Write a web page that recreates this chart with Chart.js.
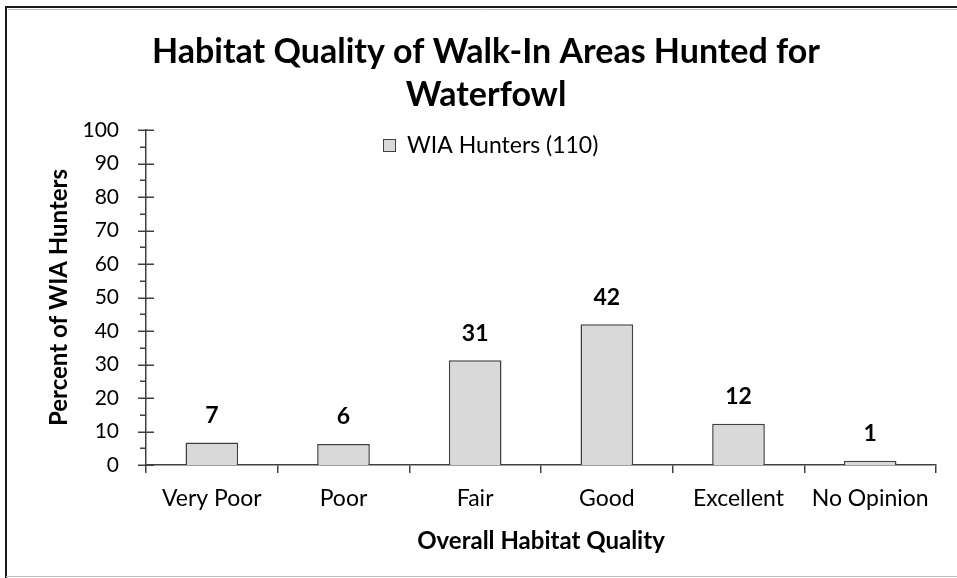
<!DOCTYPE html>
<html>
<head>
<meta charset="utf-8">
<script src="https://cdn.jsdelivr.net/npm/chart.js@4.4.1/dist/chart.umd.min.js"></script>
<style>
html,body{margin:0;padding:0;background:#fff;}
#wrap{width:957px;height:578px;position:relative;}
</style>
</head>
<body>
<div id="wrap"><canvas id="c" width="957" height="578"></canvas></div>
<script>
const categories = ["Very Poor", "Poor", "Fair", "Good", "Excellent", "No Opinion"];
const seriesName = "WIA Hunters (110)";
const seriesValues = [6.7, 6.3, 31.3, 42.0, 12.3, 1.3];
const yTickValues = [0, 10, 20, 30, 40, 50, 60, 70, 80, 90, 100];
const titleLines = ["Habitat Quality of Walk-In Areas Hunted for", "Waterfowl"];
const xTitle = "Overall Habitat Quality";
const yTitle = "Percent of WIA Hunters";

const FONT = "Lato, 'Open Sans', sans-serif";
const AXIS = "#404040";

const frame = {
  id: 'frame',
  beforeDraw(chart) {
    const ctx = chart.ctx;
    ctx.save();
    ctx.fillStyle = '#fff';
    ctx.fillRect(0, 0, chart.width, chart.height);
    ctx.strokeStyle = '#1a1a1a';
    ctx.lineWidth = 2;
    ctx.beginPath();
    ctx.moveTo(6, 578); ctx.lineTo(6, 7); ctx.lineTo(957, 7);
    ctx.stroke();
    ctx.strokeStyle = '#bdbdbd';
    ctx.lineWidth = 1;
    ctx.beginPath();
    ctx.moveTo(8, 9.5); ctx.lineTo(957, 9.5);
    ctx.moveTo(6, 576.5); ctx.lineTo(957, 576.5);
    ctx.stroke();
    // chart title
    ctx.fillStyle = '#000';
    ctx.font = "bold 34px " + FONT;
    ctx.textAlign = 'center';
    ctx.textBaseline = 'middle';
    titleLines.forEach((t, i) => ctx.fillText(t, 486, 52 + i * 43));
    ctx.restore();
  }
};

const extras = {
  id: 'extras',
  afterDatasetsDraw(chart) {
    const ctx = chart.ctx;
    const y = chart.scales.y;
    const ca = chart.chartArea;
    ctx.save();
    // y-axis tick marks: majors cross the axis, minors outside
    ctx.strokeStyle = AXIS;
    ctx.lineWidth = 1.5;
    ctx.beginPath();
    for (let v = 0; v <= 100; v += 5) {
      const py = Math.round(y.getPixelForValue(v)) + 0.25;
      if (v % 10 === 0) {
        ctx.moveTo(ca.left - 8, py); ctx.lineTo(ca.left + 8, py);
      } else {
        ctx.moveTo(ca.left - 6, py); ctx.lineTo(ca.left, py);
      }
    }
    ctx.stroke();
    // data labels
    const meta = chart.getDatasetMeta(0);
    ctx.fillStyle = '#000';
    ctx.font = "bold 23px " + FONT;
    ctx.textAlign = 'center';
    ctx.textBaseline = 'middle';
    meta.data.forEach((bar, i) => {
      ctx.fillText(String(Math.round(seriesValues[i])), bar.x, bar.y - 27);
    });
    // legend
    const ds = chart.data.datasets[0];
    const lx = ca.left + 237, ly = ca.top + 9;
    ctx.fillStyle = ds.backgroundColor;
    ctx.fillRect(lx, ly, 12, 12);
    ctx.strokeStyle = AXIS;
    ctx.lineWidth = 1;
    ctx.strokeRect(lx + 0.5, ly + 0.5, 12, 12);
    ctx.fillStyle = '#000';
    ctx.font = "23px " + FONT;
    ctx.textAlign = 'left';
    ctx.textBaseline = 'middle';
    ctx.fillText(ds.label, lx + 24, ly + 7);
    ctx.restore();
  }
};

new Chart(document.getElementById('c'), {
  type: 'bar',
  data: {
    labels: categories,
    datasets: [{
      label: seriesName,
      data: seriesValues,
      backgroundColor: '#d9d9d9',
      borderColor: AXIS,
      borderWidth: 1.5,
      borderSkipped: 'bottom',
      categoryPercentage: 1.0,
      barPercentage: 0.4
    }]
  },
  options: {
    responsive: false,
    animation: false,
    devicePixelRatio: 1,
    layout: { padding: { left: 0, right: 21, top: 130, bottom: 0 } },
    plugins: {
      legend: { display: false },
      tooltip: { enabled: false },
      title: { display: false }
    },
    scales: {
      x: {
        afterFit(s) { s.height = 113; },
        grid: { display: true, offset: true, drawOnChartArea: false, drawTicks: true, tickLength: 8, color: AXIS, lineWidth: 1.5 },
        border: { display: true, color: AXIS, width: 1.5 },
        ticks: { color: '#000', font: { family: FONT, size: 23, lineHeight: 1.2 }, padding: 12, maxRotation: 0, autoSkip: false },
        title: { display: true, text: xTitle, color: '#000', font: { family: FONT, size: 24, weight: 'bold', lineHeight: 1.2 }, padding: { top: 0, bottom: 22 } }
      },
      y: {
        min: 0, max: 100,
        afterFit(s) { s.width = 146; },
        afterBuildTicks(s) { s.ticks = yTickValues.map(v => ({ value: v })); },
        grid: { display: false },
        border: { display: true, color: AXIS, width: 1.5 },
        ticks: { color: '#000', font: { family: FONT, size: 21 }, padding: 19 },
        title: { display: true, text: yTitle, color: '#000', font: { family: FONT, size: 24, weight: 'bold', lineHeight: 1.2 }, padding: { top: 45, bottom: 0 } }
      }
    }
  },
  plugins: [frame, extras]
});
</script>
</body>
</html>
